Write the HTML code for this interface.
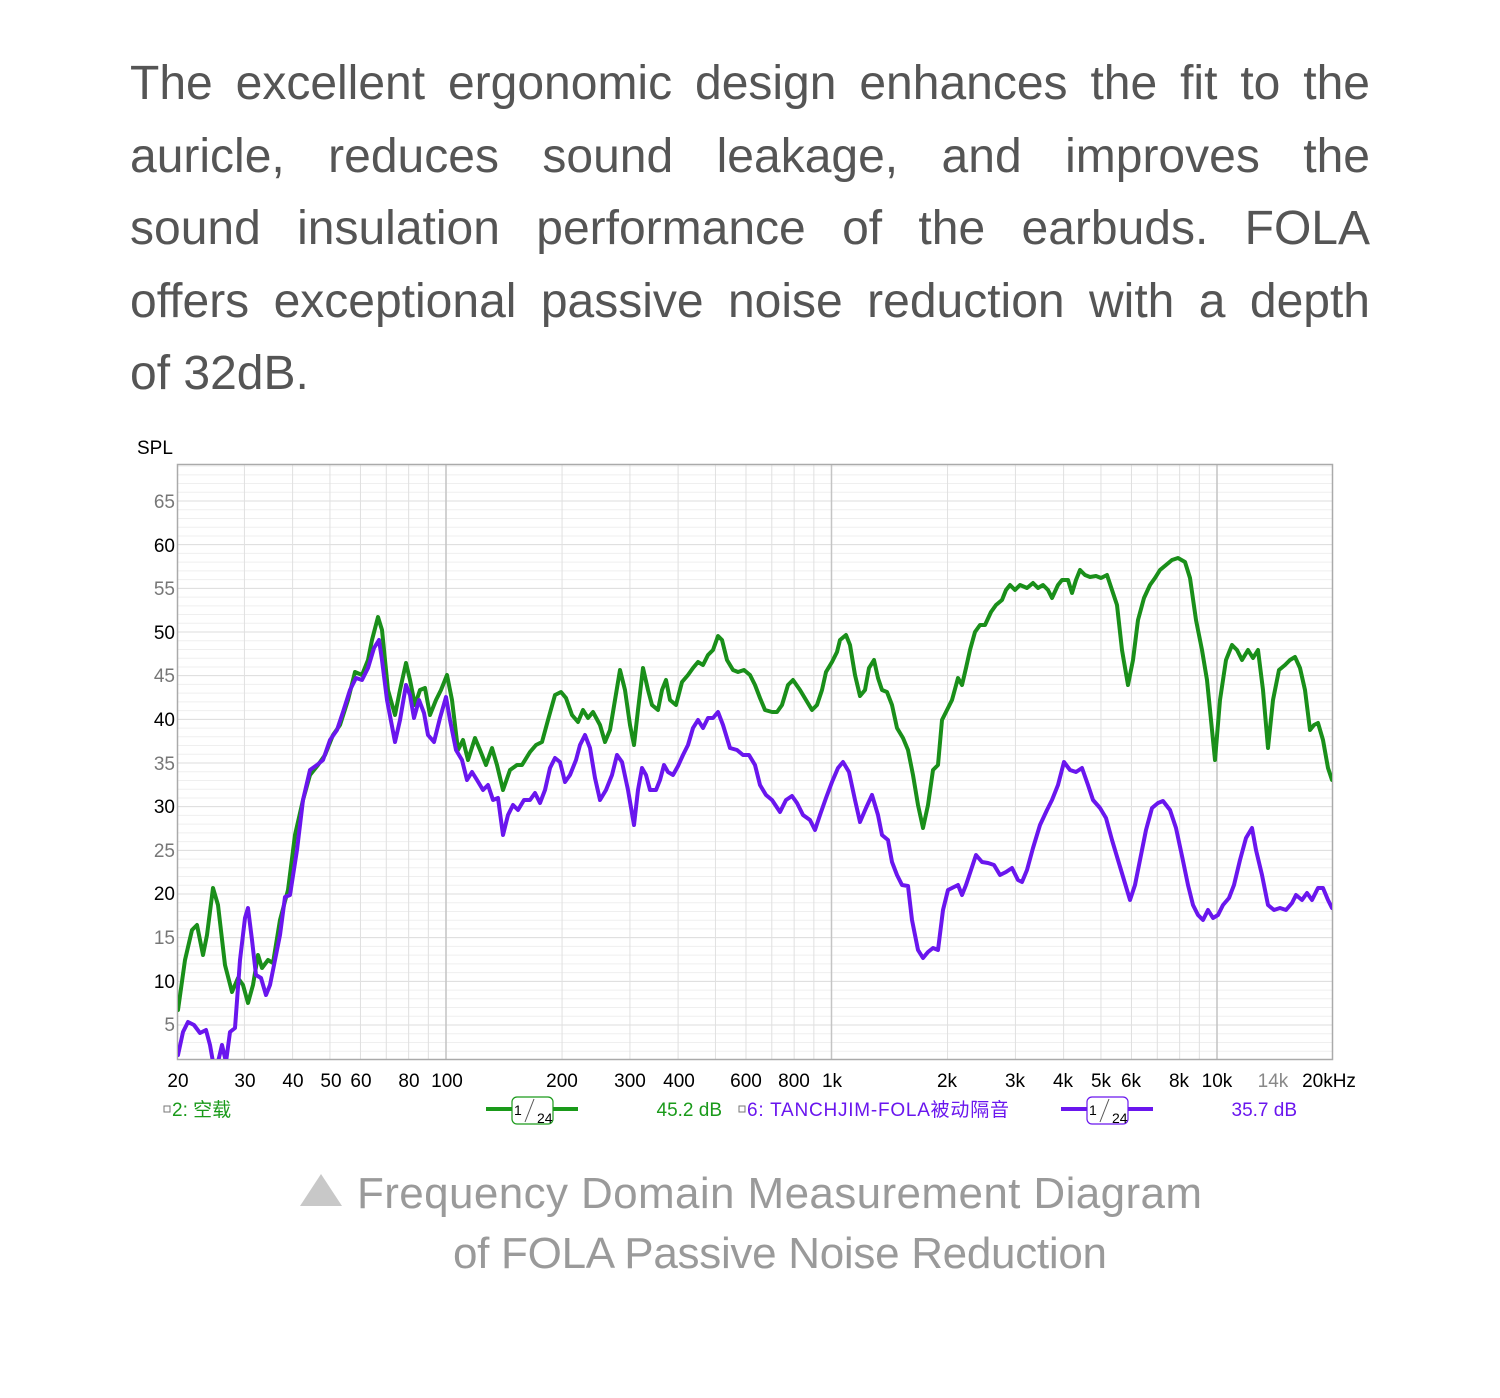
<!DOCTYPE html>
<html><head><meta charset="utf-8"><style>
body{margin:0;background:#fff;width:1500px;height:1398px;overflow:hidden;position:relative;font-family:"Liberation Sans","Noto Sans CJK SC",sans-serif}
#p{position:absolute;left:130px;top:48px;width:1240px;font-size:48px;line-height:72.5px;color:#555}
#p div{text-align:justify;text-align-last:justify;height:72.5px;white-space:nowrap}
#p div.l{text-align-last:left}
#cap{position:absolute;left:0;width:1500px;top:1160px;text-align:center;font-size:44px;line-height:60px;color:#9a9a9a}
</style></head><body>
<div id="p"><div>The excellent ergonomic design enhances the fit to the</div><div>auricle, reduces sound leakage, and improves the</div><div>sound insulation performance of the earbuds. FOLA</div><div>offers exceptional passive noise reduction with a depth</div><div class="l">of 32dB.</div></div>
<svg width="1500" height="1398" style="position:absolute;left:0;top:0" font-family="Liberation Sans, Noto Sans CJK SC, sans-serif">
<defs><clipPath id="c"><rect x="178" y="465" width="1154" height="594"/></clipPath></defs>
<g id="grid"></g>
<rect x="177.5" y="464.5" width="1155" height="595" fill="none" stroke="#aaa" stroke-width="1.5"/>
<text x="137" y="454" font-size="19" fill="#000">SPL</text>
<g font-size="19" text-anchor="end">
<text x="175" y="508" fill="#777">65</text><text x="175" y="552" fill="#000">60</text>
<text x="175" y="595" fill="#777">55</text><text x="175" y="639" fill="#000">50</text>
<text x="175" y="682" fill="#777">45</text><text x="175" y="726" fill="#000">40</text>
<text x="175" y="770" fill="#777">35</text><text x="175" y="813" fill="#000">30</text>
<text x="175" y="857" fill="#777">25</text><text x="175" y="900" fill="#000">20</text>
<text x="175" y="944" fill="#777">15</text><text x="175" y="988" fill="#000">10</text>
<text x="175" y="1031" fill="#777">5</text>
</g>
<g font-size="19" text-anchor="middle" fill="#000">
<text x="178" y="1087">20</text><text x="245" y="1087">30</text><text x="293" y="1087">40</text><text x="331" y="1087">50</text><text x="361" y="1087">60</text><text x="409" y="1087">80</text><text x="447" y="1087">100</text><text x="562" y="1087">200</text><text x="630" y="1087">300</text><text x="679" y="1087">400</text><text x="746" y="1087">600</text><text x="794" y="1087">800</text><text x="832" y="1087">1k</text><text x="947" y="1087">2k</text><text x="1015" y="1087">3k</text><text x="1063" y="1087">4k</text><text x="1101" y="1087">5k</text><text x="1131" y="1087">6k</text><text x="1179" y="1087">8k</text><text x="1217" y="1087">10k</text><text x="1273" y="1087" fill="#888">14k</text><text x="1329" y="1087">20kHz</text>
</g>
<g font-size="19">
<rect x="164" y="1106" width="6" height="6" fill="none" stroke="#777" stroke-width="1"/>
<text x="172" y="1116" fill="#1a9a1a">2: 空载</text>
<line x1="486" y1="1109" x2="512" y2="1109" stroke="#1a9a1a" stroke-width="4"/><line x1="553" y1="1109" x2="578" y2="1109" stroke="#1a9a1a" stroke-width="4"/>
<rect x="512" y="1097" width="41" height="27" rx="5" fill="#fff" stroke="#1a9a1a" stroke-width="1.2"/>
<text x="514" y="1115" font-size="14">1</text><line x1="525" y1="1122" x2="534" y2="1099" stroke="#555"/><text x="537" y="1123" font-size="14">24</text>
<text x="722" y="1116" fill="#1a9a1a" text-anchor="end">45.2 dB</text>
<rect x="739" y="1106" width="6" height="6" fill="none" stroke="#777" stroke-width="1"/>
<text x="747" y="1116" fill="#6a16ee" textLength="262">6: TANCHJIM-FOLA被动隔音</text>
<line x1="1061" y1="1109" x2="1087" y2="1109" stroke="#6a16ee" stroke-width="4"/><line x1="1128" y1="1109" x2="1153" y2="1109" stroke="#6a16ee" stroke-width="4"/>
<rect x="1087" y="1097" width="41" height="27" rx="5" fill="#fff" stroke="#6a16ee" stroke-width="1.2"/>
<text x="1089" y="1115" font-size="14">1</text><line x1="1100" y1="1122" x2="1109" y2="1099" stroke="#555"/><text x="1112" y="1123" font-size="14">24</text>
<text x="1297" y="1116" fill="#6a16ee" text-anchor="end">35.7 dB</text>
</g>
<g clip-path="url(#c)" fill="none" stroke-width="4" stroke-linejoin="round" stroke-linecap="round">
<polyline stroke="#1a8f1a" points="178,1010 185,960 192,930 197,925 203,955 207,935 213,888 218,905 225,965 232,992 238,978 243,985 248,1003 253,985 258,955 262,968 268,960 273,963 280,920 288,890 295,835 303,800 310,775 318,765 325,755 333,735 340,725 348,700 355,672 362,675 368,660 372,640 378,617 382,630 388,690 395,715 400,690 406,663 410,680 415,705 420,690 425,688 430,715 436,700 441,690 447,675 452,700 458,750 463,740 468,760 475,738 480,750 486,765 492,748 497,765 503,790 510,770 517,765 522,765 530,752 536,745 542,742 548,720 555,695 561,692 566,698 572,715 578,722 583,710 588,718 593,712 600,725 605,742 610,730 615,700 620,670 625,690 630,725 634,745 638,710 643,668 648,690 652,705 658,710 662,690 666,680 670,700 676,705 682,682 688,675 693,668 698,662 703,665 708,655 713,650 718,636 722,640 727,660 733,670 738,672 744,670 750,675 755,685 760,698 765,710 772,712 777,712 782,705 788,685 793,680 800,690 806,700 812,710 817,705 822,690 826,672 832,662 837,652 840,640 846,635 850,645 855,675 860,696 865,690 869,668 874,660 878,678 882,690 887,692 892,705 897,728 903,738 908,750 913,775 918,805 923,828 928,805 933,770 938,765 942,720 948,708 952,700 958,678 962,685 966,668 970,650 975,632 980,625 985,625 991,612 996,605 1002,600 1006,590 1010,585 1015,590 1020,585 1027,588 1033,583 1038,588 1043,585 1048,590 1052,598 1058,585 1062,580 1068,580 1072,593 1076,580 1080,570 1085,575 1090,577 1096,576 1101,578 1107,575 1112,590 1117,605 1122,650 1128,685 1133,660 1138,620 1144,598 1150,585 1155,578 1160,570 1166,565 1172,560 1178,558 1185,562 1190,578 1196,620 1202,650 1207,680 1215,760 1220,700 1226,660 1232,645 1237,650 1242,660 1248,650 1253,658 1258,650 1263,690 1268,748 1273,700 1279,670 1285,665 1290,660 1295,657 1300,668 1305,690 1310,730 1314,725 1318,723 1323,740 1328,768 1332,780"/>
<polyline stroke="#6a16ee" points="178,1055 183,1032 188,1022 194,1025 200,1033 206,1030 210,1045 213,1062 218,1062 222,1045 226,1062 230,1032 235,1028 240,960 245,918 248,908 252,940 256,975 261,978 266,995 270,985 275,960 280,935 285,897 290,895 297,850 303,800 310,770 317,765 323,760 330,740 337,730 343,712 350,690 356,678 362,680 368,668 374,648 379,640 382,660 387,700 395,742 400,720 406,685 410,695 414,718 419,700 424,713 428,735 434,742 440,718 446,697 450,720 456,750 462,760 467,780 472,772 477,780 483,790 488,785 493,800 498,798 503,835 508,815 513,805 518,810 524,800 530,800 535,793 540,803 545,790 550,768 555,758 560,762 565,782 570,775 576,760 580,745 585,735 590,748 595,778 600,800 606,790 612,775 617,755 622,762 628,790 634,825 638,790 642,768 646,775 650,790 656,790 660,780 664,765 668,772 673,775 678,766 683,755 688,745 693,728 698,720 703,728 708,718 713,718 718,712 723,725 730,748 737,750 743,755 749,755 755,765 760,785 766,795 772,800 780,812 786,800 792,796 797,803 803,815 810,820 815,830 820,815 826,798 832,782 838,768 843,762 849,772 855,800 860,822 866,808 872,795 878,815 882,835 888,840 892,862 897,875 902,885 908,886 912,920 918,950 923,958 928,952 933,948 938,950 943,910 948,890 952,888 958,885 962,895 966,885 971,870 976,855 982,862 988,863 994,865 1000,875 1006,872 1012,868 1018,880 1022,882 1027,870 1033,848 1040,825 1047,810 1052,800 1058,785 1064,762 1070,770 1076,772 1082,768 1088,785 1093,800 1100,808 1106,818 1112,840 1118,860 1124,880 1130,900 1135,885 1140,860 1146,830 1152,808 1158,803 1163,801 1170,810 1176,828 1182,856 1188,885 1193,905 1198,915 1203,920 1208,910 1213,918 1218,915 1223,905 1229,898 1234,885 1240,860 1246,838 1252,828 1256,850 1262,875 1268,905 1274,910 1280,908 1286,910 1292,903 1296,895 1302,900 1307,893 1312,900 1318,888 1323,888 1328,900 1332,908"/>
</g>
<polygon points="300,1206 321,1174 342,1206" fill="#c8c8c8"/>
<g font-size="44" fill="#9a9a9a">
<text x="357" y="1208" textLength="845">Frequency Domain Measurement Diagram</text>
<text x="453" y="1268" textLength="654">of FOLA Passive Noise Reduction</text>
</g>
</svg>
<script>
var g=document.getElementById('grid'),s='';
for(var d=2;d<=69;d++){var y=1025-(d-5)*8.733;if(y<465||y>1059)continue;s+='<line x1="178" x2="1332" y1="'+y+'" y2="'+y+'" stroke="'+(d%5==0?'#dcdcdc':'#efefef')+'" stroke-width="1"/>';}
var fs=[];for(var e=1;e<=4;e++)for(var m=1;m<10;m++){var f=m*Math.pow(10,e);if(f>20&&f<20000)fs.push([f,m==1]);}
fs.forEach(function(a){var x=446+(Math.log10(a[0])-2)*385.5;s+='<line y1="465" y2="1059" x1="'+x+'" x2="'+x+'" stroke="'+(a[1]?'#c4c4c4':'#e0e0e0')+'" stroke-width="'+(a[1]?1.5:1)+'"/>';});
g.innerHTML=s;
</script>
</body></html>
